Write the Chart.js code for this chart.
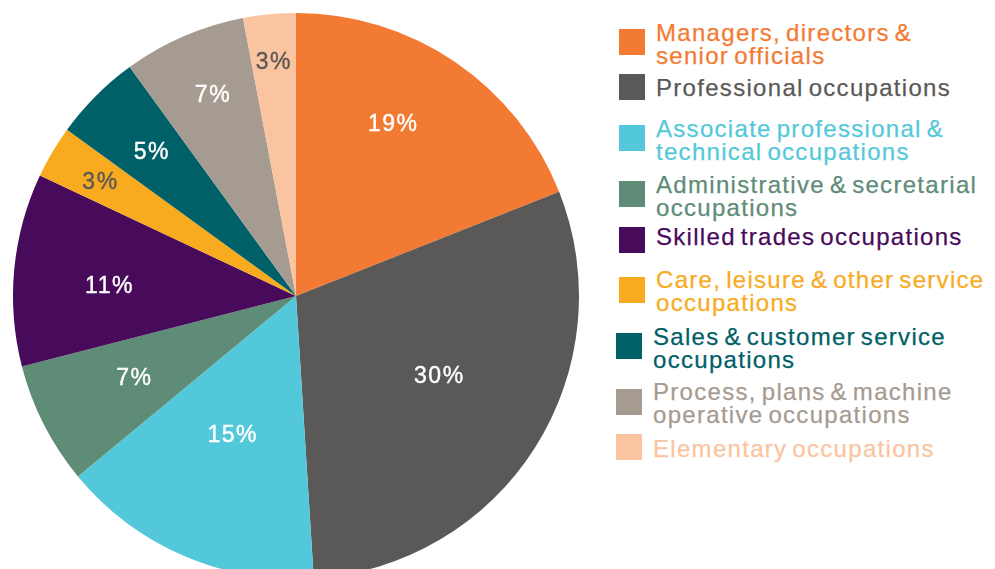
<!DOCTYPE html>
<html>
<head>
<meta charset="utf-8">
<script src="https://cdn.jsdelivr.net/npm/chart.js@4/dist/chart.umd.min.js"></script>
<style>
    html, body { margin: 0; padding: 0; background: #fff; overflow: hidden; }
    body { width: 995px; height: 569px; position: relative; font-family: "Liberation Sans", Arial, Helvetica, sans-serif; }
    #pie-wrap { position: absolute; left: 0; top: 0; width: 592px; height: 592px; }
    .legend-box { position: absolute; width: 26px; height: 26px; }
    .legend-text { position: absolute; font-size: 24px; line-height: 23px; letter-spacing: 1.3px; word-spacing: -3px; white-space: nowrap; -webkit-text-stroke: 0.25px currentColor; }
</style>
</head>
<body>
<div id="pie-wrap"><canvas id="occupationPie"></canvas></div>
<div id="legend"></div>
<script>
// 職業類別 (多行標籤以陣列表示)
const categories = [
    ['Managers, directors &', 'senior officials'],
    ['Professional occupations'],
    ['Associate professional &', 'technical occupations'],
    ['Administrative & secretarial', 'occupations'],
    ['Skilled trades occupations'],
    ['Care, leisure & other service', 'occupations'],
    ['Sales & customer service', 'occupations'],
    ['Process, plans & machine', 'operative occupations'],
    ['Elementary occupations']
];
const shares = [19, 30, 15, 7, 11, 3, 5, 7, 3];
const sliceColors = ['#f37a33', '#5b5957', '#54c8db', '#5e8c77', '#480a5b', '#f8ab1e', '#006067', '#a69b91', '#fbc4a0'];
const labelColors = ['#fff', '#fff', '#fff', '#fff', '#fff', '#5b5957', '#fff', '#fff', '#5b5957'];

// 標籤位置：[扇區內角度比例, 半徑比例]
const labelPlacement = [[0.43, 0.70], [0.47, 0.58], [0.52, 0.54], [0.51, 0.64], [0.44, 0.66], [0.47, 0.80], [0.5, 0.72], [0.54, 0.77], [0.5, 0.83]];

// 圖例排版
const legendTextTops = [21, 76, 117, 173, 225, 268, 325, 380, 437];
const legendBoxTops = [29, 74, 125, 181, 227, 277, 333, 389, 434];
const legendShift = [0, 0, 0, 0, 0, 0, -3, -3, -3];

const sliceLabels = {
    id: 'sliceLabels',
    afterDatasetsDraw(chart) {
        const ctx = chart.ctx;
        const arcs = chart.getDatasetMeta(0).data;
        ctx.save();
        ctx.font = '23px "Liberation Sans", Arial, sans-serif';
        ctx.letterSpacing = '1.5px';
        ctx.textAlign = 'center';
        ctx.textBaseline = 'middle';
        arcs.forEach((arc, i) => {
            const [f, r] = labelPlacement[i];
            const ang = arc.startAngle + (arc.endAngle - arc.startAngle) * f;
            const x = arc.x + Math.cos(ang) * arc.outerRadius * r;
            const y = arc.y + Math.sin(ang) * arc.outerRadius * r + 1;
            ctx.fillStyle = labelColors[i];
            ctx.strokeStyle = labelColors[i];
            ctx.lineWidth = 0.4;
            ctx.fillText(shares[i] + '%', x, y);
            ctx.strokeText(shares[i] + '%', x, y);
        });
        ctx.restore();
    }
};

new Chart(document.getElementById('occupationPie'), {
    type: 'pie',
    data: {
        labels: categories.map(c => c.join(' ')),
        datasets: [{
            data: shares,
            backgroundColor: sliceColors,
            borderWidth: 0
        }]
    },
    options: {
        responsive: true,
        maintainAspectRatio: false,
        animation: false,
        layout: { padding: 13 },
        plugins: {
            legend: { display: false },
            tooltip: { enabled: false }
        }
    },
    plugins: [sliceLabels]
});

// 自訂圖例
const legendEl = document.getElementById('legend');
categories.forEach((lines, i) => {
    const box = document.createElement('div');
    box.className = 'legend-box';
    box.style.left = (619 + legendShift[i]) + 'px';
    box.style.top = legendBoxTops[i] + 'px';
    box.style.background = sliceColors[i];
    legendEl.appendChild(box);

    const text = document.createElement('div');
    text.className = 'legend-text';
    text.style.left = (656 + legendShift[i]) + 'px';
    text.style.top = legendTextTops[i] + 'px';
    text.style.color = sliceColors[i];
    text.innerHTML = lines.join('<br>');
    legendEl.appendChild(text);
});
</script>
</body>
</html>
